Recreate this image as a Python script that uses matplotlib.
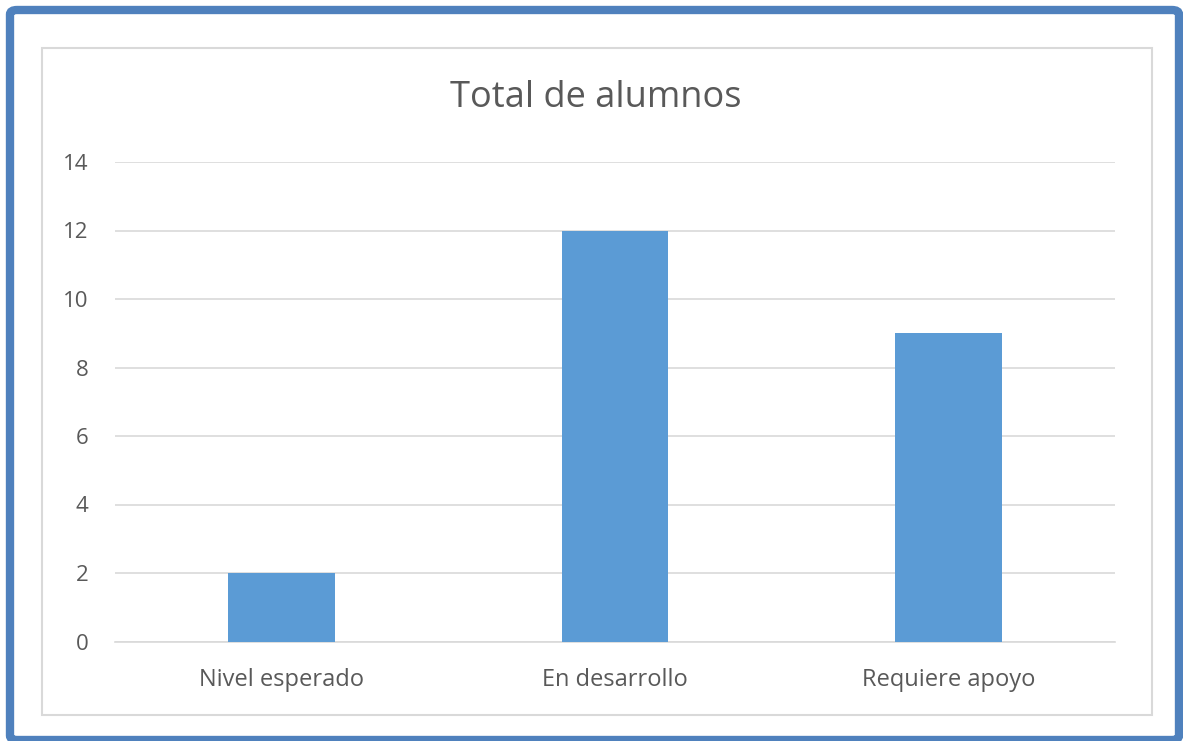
import matplotlib
matplotlib.use("Agg")
import matplotlib.pyplot as plt
from matplotlib.patches import FancyBboxPatch, Rectangle

categories = ["Nivel esperado", "En desarrollo", "Requiere apoyo"]
values = [2, 12, 9]
yticks = [0, 2, 4, 6, 8, 10, 12, 14]
title = "Total de alumnos"

W, H = 1183, 741
fig = plt.figure(figsize=(W / 100, H / 100), dpi=100)
plt.rcParams['font.family'] = ['Open Sans', 'DejaVu Sans']

# outer blue border
fig.patches.append(FancyBboxPatch((10 / W, 1 / H), (1179 - 10) / W, (H - 10 - 1) / H,
                                  boxstyle="round,pad=0,rounding_size=0.006",
                                  transform=fig.transFigure, fill=False,
                                  edgecolor="#4f81bd", linewidth=6))
# inner gray border
fig.patches.append(Rectangle((42 / W, (H - 715) / H), (1152 - 42) / W, (715 - 48) / H,
                             transform=fig.transFigure, fill=False,
                             edgecolor="#d9d9d9", linewidth=1.5))

ax = fig.add_axes([115 / W, (H - 641.5) / H, 1000 / W, (641.5 - 162) / H])
x = range(len(categories))
ax.bar(x, values, width=0.32, color="#5b9bd5", zorder=3)
ax.set_xlim(-0.5, 2.5)
ax.set_ylim(0, 14)
ax.set_yticks(yticks)
ax.set_xticks(list(x))
ax.set_xticklabels(categories)
ax.grid(axis="y", color="#d9d9d9", linewidth=1.2, zorder=0)
for s in ["top", "right", "left"]:
    ax.spines[s].set_visible(False)
ax.spines["bottom"].set_color("#d9d9d9")
ax.spines["bottom"].set_linewidth(1.2)
ax.tick_params(axis="both", length=0, colors="#595959")
ax.tick_params(axis="y", pad=19, labelsize=16)
ax.tick_params(axis="x", pad=19, labelsize=17)

fig.text(596 / W, (H - 107) / H, title, ha="center", va="baseline",
         fontsize=26, color="#595959")

fig.savefig("out.png", dpi=100)
